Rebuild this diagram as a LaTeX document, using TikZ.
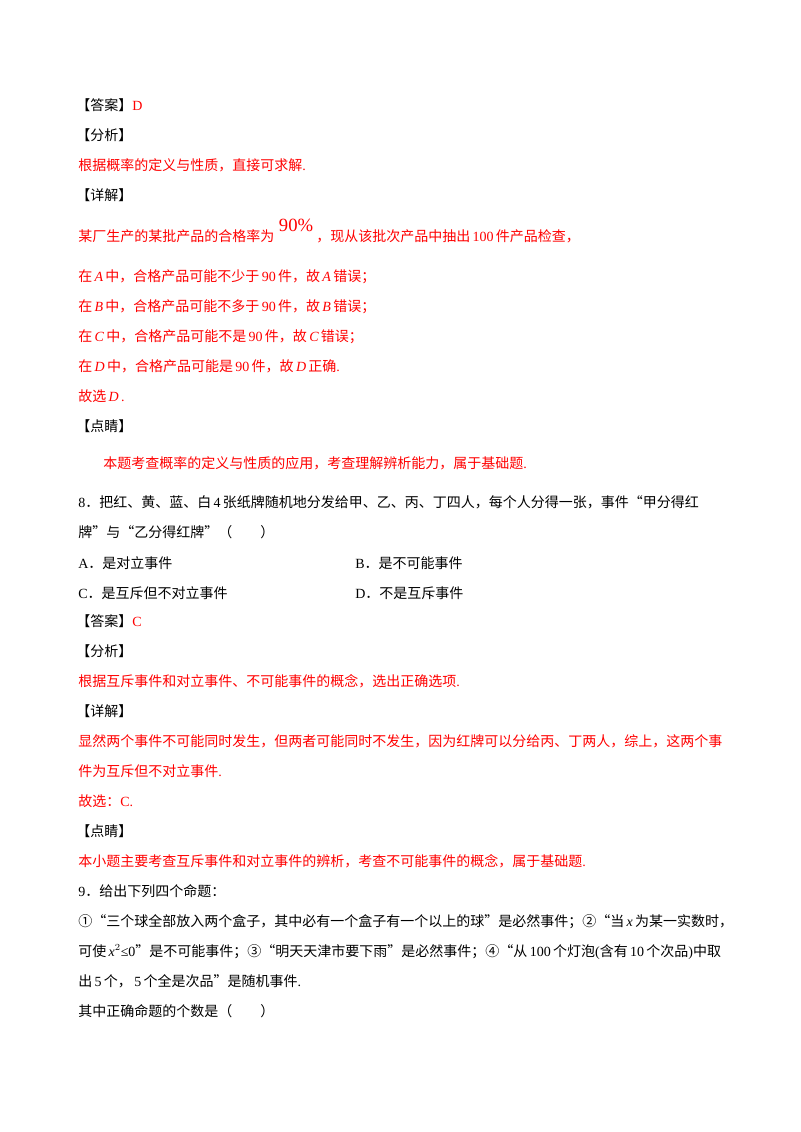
\documentclass[tikz,border=0pt]{standalone}
\usepackage{fontspec}
\setmainfont{Liberation Serif}
\newfontfamily\cjk{Noto Sans CJK SC}
\definecolor{ans}{RGB}{255,0,0}
\begin{document}
\begin{tikzpicture}[x=0.75pt,y=-0.75pt,
 t/.style={anchor=base west,inner sep=0pt,font=\fontsize{10.5}{12}\cjk},
 r/.style={t,text=ans}]
\useasboundingbox[fill=white] (0,0) rectangle (800,1132);
\newcommand\li[1]{\,{\rmfamily\itshape #1}\,}
\newcommand\ro[1]{\,{\rmfamily #1}\,}
\node[t] (a1) at (76,110) {【答案】\textcolor{ans}{\rmfamily D}};
\node[t] (a2) at (76,140) {【分析】};
\node[r] (a3) at (78,170) {根据概率的定义与性质，直接可求解{\rmfamily .}};
\node[t] (a4) at (76,200) {【详解】};
\node[r] (a5) at (78,241) {某厂生产的某批产品的合格率为\raisebox{7pt}{\fontsize{14}{14}\rmfamily\ 90\%}\ ，现从该批次产品中抽出\ro{100}件产品检查，};
\node[r] (a6) at (78,281) {在\li{A}中，合格产品可能不少于\ro{90}件，故\li{A}错误；};
\node[r] (a7) at (78,311) {在\li{B}中，合格产品可能不多于\ro{90}件，故\li{B}错误；};
\node[r] (a8) at (78,341) {在\li{C}中，合格产品可能不是\ro{90}件，故\li{C}错误；};
\node[r] (a9) at (78,371) {在\li{D}中，合格产品可能是\ro{90}件，故\li{D}正确{\rmfamily .}};
\node[r] (a10) at (78,401) {故选\li{D}{\rmfamily .}};
\node[t] (a11) at (76,431) {【点睛】};
\node[r] (a12) at (103,468) {本题考查概率的定义与性质的应用，考查理解辨析能力，属于基础题{\rmfamily .}};
\node[t] (b1) at (78,507) {{\rmfamily 8}．把红、黄、蓝、白\ro{4}张纸牌随机地分发给甲、乙、丙、丁四人，每个人分得一张，事件“甲分得红};
\node[t] (b2) at (78,537) {牌”与“乙分得红牌”（　　）};
\node[t] (b3) at (78,568) {{\rmfamily A}．是对立事件};
\node[t] (b4) at (355,568) {{\rmfamily B}．是不可能事件};
\node[t] (b5) at (78,598) {{\rmfamily C}．是互斥但不对立事件};
\node[t] (b6) at (355,598) {{\rmfamily D}．不是互斥事件};
\node[t] (c1) at (76,626) {【答案】\textcolor{ans}{\rmfamily C}};
\node[t] (c2) at (76,656) {【分析】};
\node[r] (c3) at (78,686) {根据互斥事件和对立事件、不可能事件的概念，选出正确选项{\rmfamily .}};
\node[t] (c4) at (76,716) {【详解】};
\node[r] (c5) at (78,746) {显然两个事件不可能同时发生，但两者可能同时不发生，因为红牌可以分给丙、丁两人，综上，这两个事};
\node[r] (c6) at (78,776) {件为互斥但不对立事件{\rmfamily .}};
\node[r] (c7) at (78,806) {故选：{\rmfamily C.}};
\node[t] (c8) at (76,836) {【点睛】};
\node[r] (c9) at (78,866) {本小题主要考查互斥事件和对立事件的辨析，考查不可能事件的概念，属于基础题{\rmfamily .}};
\node[t] (d1) at (78,896) {{\rmfamily 9}．给出下列四个命题：};
\node[t] (d2) at (78,926) {①“三个球全部放入两个盒子，其中必有一个盒子有一个以上的球”是必然事件；②“当\li{x}为某一实数时，};
\node[t] (d3) at (78,956) {可使\,{\rmfamily\itshape x}{\rmfamily$^2$≤0}”是不可能事件；③“明天天津市要下雨”是必然事件；④“从\ro{100}个灯泡{\rmfamily (}含有\ro{10}个次品{\rmfamily )}中取};
\node[t] (d4) at (78,986) {出\ro{5}个，\ro{5}个全是次品”是随机事件{\rmfamily .}};
\node[t] (d5) at (78,1016) {其中正确命题的个数是（　　）};
\end{tikzpicture}
\end{document}
